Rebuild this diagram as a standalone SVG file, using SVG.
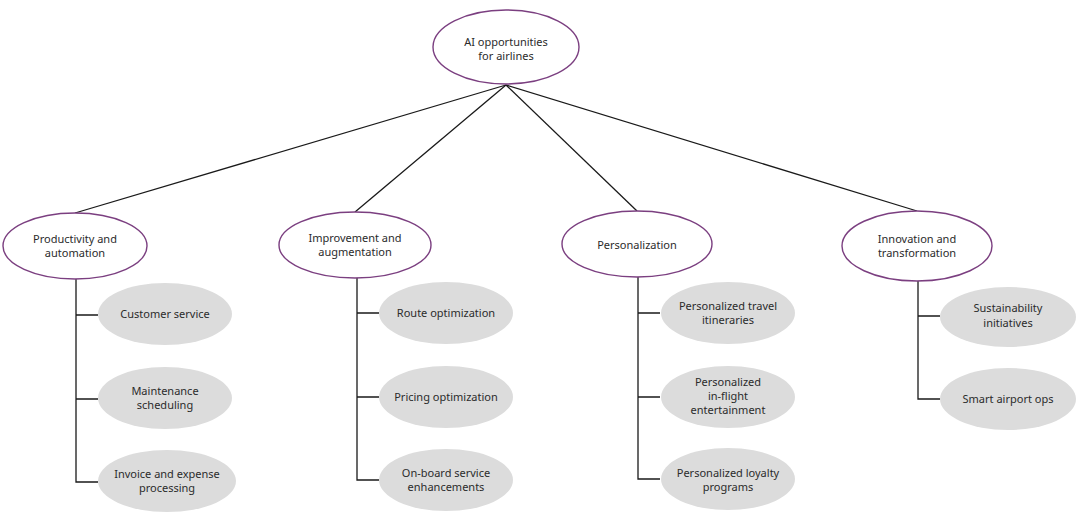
<svg xmlns="http://www.w3.org/2000/svg" width="1080" height="520" viewBox="0 0 1080 520">
<style>
.cat{fill:#fff;stroke:#7b3f80;stroke-width:1.4}
.leaf{fill:#dcdcdc;stroke:none}
.t{font-family:"Noto Sans","Open Sans",sans-serif;font-size:11px;fill:#2b2b2b;text-anchor:middle}
.c{stroke:#1a1a1a;stroke-width:1.3;fill:none}
</style>
<rect width="1080" height="520" fill="#fff"/>
<g id="connectors">
<line class="c" x1="506" y1="85" x2="75" y2="213"/>
<line class="c" x1="506" y1="85" x2="355" y2="212"/>
<line class="c" x1="506" y1="85" x2="637" y2="211"/>
<line class="c" x1="506" y1="85" x2="917" y2="211"/>
<path class="c" d="M76 279V482H98M76 315H98M76 399H98"/>
<path class="c" d="M357 277V480H379M357 313H379M357 397H379"/>
<path class="c" d="M638 277V479H660M638 313H660M638 397H660"/>
<path class="c" d="M918 281V399H940M918 316H940"/>
</g>
<g id="root"><ellipse class="cat" cx="506" cy="47" rx="73" ry="37"/><text class="t" x="506" y="46">AI opportunities</text><text class="t" x="506" y="60">for airlines</text></g>
<g id="cat1"><ellipse class="cat" cx="75" cy="246" rx="72" ry="33"/><text class="t" x="75" y="243">Productivity and</text><text class="t" x="75" y="257">automation</text></g>
<g id="cat2"><ellipse class="cat" cx="355" cy="245" rx="76" ry="33"/><text class="t" x="355" y="242">Improvement and</text><text class="t" x="355" y="256">augmentation</text></g>
<g id="cat3"><ellipse class="cat" cx="637" cy="244" rx="75" ry="33"/><text class="t" x="637" y="249">Personalization</text></g>
<g id="cat4"><ellipse class="cat" cx="917" cy="246" rx="75" ry="35"/><text class="t" x="917" y="243">Innovation and</text><text class="t" x="917" y="257">transformation</text></g>
<g id="leaf1a"><ellipse class="leaf" cx="165" cy="314" rx="67" ry="31"/><text class="t" x="165" y="318">Customer service</text></g>
<g id="leaf1b"><ellipse class="leaf" cx="165" cy="398" rx="67" ry="31"/><text class="t" x="165" y="395">Maintenance</text><text class="t" x="165" y="409">scheduling</text></g>
<g id="leaf1c"><ellipse class="leaf" cx="167" cy="481" rx="69" ry="31"/><text class="t" x="167" y="478">Invoice and expense</text><text class="t" x="167" y="492">processing</text></g>
<g id="leaf2a"><ellipse class="leaf" cx="446" cy="313" rx="67" ry="31"/><text class="t" x="446" y="317">Route optimization</text></g>
<g id="leaf2b"><ellipse class="leaf" cx="446" cy="397" rx="67" ry="31"/><text class="t" x="446" y="401">Pricing optimization</text></g>
<g id="leaf2c"><ellipse class="leaf" cx="446" cy="480" rx="67" ry="31"/><text class="t" x="446" y="477">On-board service</text><text class="t" x="446" y="491">enhancements</text></g>
<g id="leaf3a"><ellipse class="leaf" cx="728" cy="313" rx="67" ry="31"/><text class="t" x="728" y="310">Personalized travel</text><text class="t" x="728" y="324">itineraries</text></g>
<g id="leaf3b"><ellipse class="leaf" cx="728" cy="397" rx="67" ry="31"/><text class="t" x="728" y="386">Personalized</text><text class="t" x="728" y="400">in-flight</text><text class="t" x="728" y="414">entertainment</text></g>
<g id="leaf3c"><ellipse class="leaf" cx="728" cy="479" rx="67" ry="31"/><text class="t" x="728" y="477">Personalized loyalty</text><text class="t" x="728" y="491">programs</text></g>
<g id="leaf4a"><ellipse class="leaf" cx="1008" cy="317" rx="68" ry="30"/><text class="t" x="1008" y="312">Sustainability</text><text class="t" x="1008" y="327">initiatives</text></g>
<g id="leaf4b"><ellipse class="leaf" cx="1008" cy="399" rx="68" ry="31"/><text class="t" x="1008" y="403">Smart airport ops</text></g>
</svg>
